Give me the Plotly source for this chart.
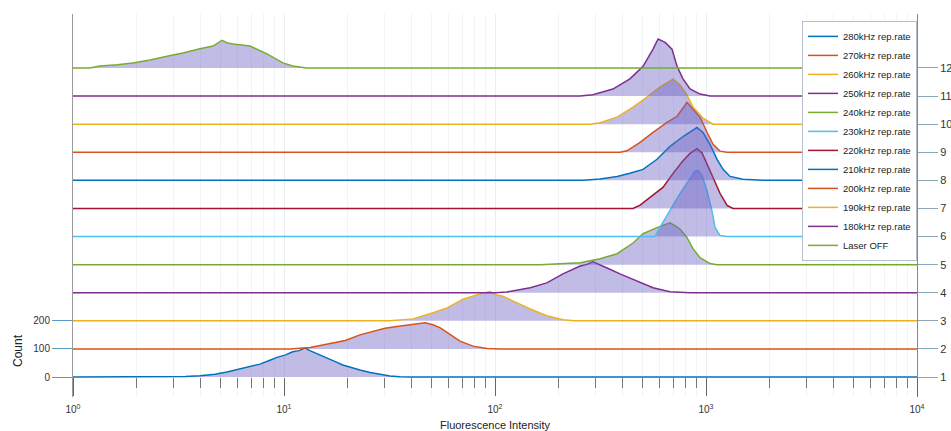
import plotly.graph_objects as go

# ---------------- data ----------------
SERIES_NAMES = ["280kHz rep.rate", "270kHz rep.rate", "260kHz rep.rate", "250kHz rep.rate",
                "240kHz rep.rate", "230kHz rep.rate", "220kHz rep.rate", "210kHz rep.rate",
                "200kHz rep.rate", "190kHz rep.rate", "180kHz rep.rate", "Laser OFF"]
SERIES_COLORS = ["#0072BD", "#D95319", "#EDB120", "#7E2F8E", "#77AC30", "#4DBEEE",
                 "#A2142F", "#0072BD", "#D95319", "#EDB120", "#7E2F8E", "#77AC30"]
RIGHT_LABELS = ["1", "2", "3", "4", "5", "6", "7", "8", "9", "10", "11", "12"]
LEFT_TICKS = [0, 100, 200]
X_TICKS = [1, 10, 100, 1000, 10000]
X_TICK_TEXT = ["10<sup>0</sup>", "10<sup>1</sup>", "10<sup>2</sup>", "10<sup>3</sup>", "10<sup>4</sup>"]
X_MIN, X_MAX = 1, 10000
OFFSET_STEP = 100

# intensity / count pairs per histogram
S280_X = [2.88, 3.40, 4.0, 4.71, 5.37, 6.18, 6.90, 7.69, 8.58, 9.26, 10.1, 11.0, 11.8, 12.6, 13.1,
          13.7, 14.8, 16.0, 17.5, 19.0, 21.0, 22.9, 25.6, 27.6, 31.8, 35.5, 39.5]
S280_Y = [0, 2, 5, 10, 18, 28, 38, 46, 60, 70, 78, 90, 94, 104, 96, 90, 78, 67, 55, 43, 32, 25, 16, 11, 4, 1, 0]

S270_X = [10.7, 13.3, 16.0, 19.5, 22.9, 26.1, 30.1, 33.6, 37.4, 41.8, 46.6, 50.8, 54.8, 61.2, 68.2, 78.7, 91.6, 106]
S270_Y = [0, 5, 17, 30, 50, 62, 74, 79, 84, 88, 93, 86, 76, 52, 28, 10, 2, 0]

S260_X = [31.8, 40.9, 49.2, 59.3, 70.5, 84.9, 94.7, 102, 109, 122, 147, 176, 210, 239]
S260_Y = [0, 7, 25, 46, 77, 96, 104, 92, 88, 70, 42, 18, 4, 0]

S250_X = [100, 114, 147, 176, 210, 253, 273, 291, 315, 340, 391, 471, 561, 675, 840]
S250_Y = [0, 3, 18, 35, 67, 95, 101, 110, 100, 88, 67, 42, 18, 4, 0]

S240_X = [163, 253, 315, 379, 451, 503, 561, 605, 653, 675, 712, 753, 813, 868, 937, 1045, 1128]
S240_Y = [0, 7, 21, 39, 77, 110, 127, 136, 145, 149, 139, 127, 96, 57, 25, 4, 0]

S230_X = [573, 604, 673, 753, 840, 887, 920, 957, 1011, 1067, 1104, 1165, 1259]
S230_Y = [0, 32, 92, 153, 206, 233, 235, 218, 163, 92, 32, 4, 0]

S220_X = [451, 487, 543, 625, 698, 778, 840, 906, 957, 1011, 1080, 1165, 1259, 1343]
S220_Y = [0, 12, 39, 75, 125, 170, 196, 213, 198, 160, 110, 54, 11, 0]

S210_X = [261, 315, 379, 436, 503, 586, 673, 778, 868, 906, 968, 1045, 1128, 1205, 1300, 1497, 1862]
S210_Y = [0, 5, 14, 25, 39, 75, 120, 156, 181, 188, 170, 128, 75, 39, 14, 4, 0]

S200_X = [391, 422, 487, 561, 653, 729, 778, 813, 868, 937, 1011, 1080, 1165, 1259]
S200_Y = [0, 5, 35, 71, 106, 128, 160, 177, 153, 125, 71, 28, 4, 0]

S190_X = [282, 315, 379, 451, 525, 605, 698, 753, 813, 868, 968, 1080]
S190_Y = [0, 5, 25, 61, 96, 132, 160, 139, 103, 61, 21, 0]

S180_X = [253, 291, 362, 436, 503, 561, 593, 640, 690, 729, 778, 840, 937, 1045]
S180_Y = [0, 5, 25, 61, 106, 167, 203, 191, 167, 106, 61, 25, 7, 0]

SOFF_X = [1.2, 1.34, 1.62, 1.92, 2.32, 2.79, 3.32, 4.0, 4.61, 5.08, 5.4, 5.73, 6.90, 8.30, 9.89, 11.0, 12.8]
SOFF_Y = [0, 7, 11, 18, 28, 42, 53, 68, 78, 98, 89, 85, 78, 50, 18, 7, 0]

SERIES_X = [S280_X, S270_X, S260_X, S250_X, S240_X, S230_X, S220_X, S210_X, S200_X, S190_X, S180_X, SOFF_X]
SERIES_Y = [S280_Y, S270_Y, S260_Y, S250_Y, S240_Y, S230_Y, S220_Y, S210_Y, S200_Y, S190_Y, S180_Y, SOFF_Y]

# ---------------- figure ----------------
FILL = "rgba(105,95,195,0.42)"
FONT = "Liberation Sans, Arial, sans-serif"

fig = go.Figure()
offsets = [i * OFFSET_STEP for i in range(len(SERIES_NAMES))]

for i, (xs, ys) in enumerate(zip(SERIES_X, SERIES_Y)):
    off = offsets[i]
    # invisible baseline for the fill
    fig.add_trace(go.Scatter(x=[X_MIN, X_MAX], y=[off, off], mode="lines",
                             line=dict(width=0, color=SERIES_COLORS[i]),
                             showlegend=False, hoverinfo="skip"))
    fig.add_trace(go.Scatter(x=[X_MIN] + xs + [X_MAX],
                             y=[off] + [off + v for v in ys] + [off],
                             mode="lines", fill="tonexty", fillcolor=FILL,
                             line=dict(color=SERIES_COLORS[i], width=1.5),
                             name=SERIES_NAMES[i], showlegend=False))

# legend entries (line only), top to bottom in the same order
for name, col in zip(SERIES_NAMES, SERIES_COLORS):
    fig.add_trace(go.Scatter(x=[None], y=[None], mode="lines", name=name,
                             line=dict(color=col, width=1.5)))

# helpers so the secondary axes are drawn
fig.add_trace(go.Scatter(x=[None], y=[None], xaxis="x2", yaxis="y", showlegend=False, hoverinfo="skip"))
fig.add_trace(go.Scatter(x=[None], y=[None], xaxis="x", yaxis="y2", showlegend=False, hoverinfo="skip"))

Y_RANGE = [-71, 1292]
minor_vals = [m * 10 ** d for d in range(4) for m in range(2, 10)]
PLOT_H = 431 - 14 - 34

fig.update_layout(
    width=951, height=431,
    margin=dict(l=73, r=34, t=14, b=34, autoexpand=False),
    paper_bgcolor="white", plot_bgcolor="white",
    font=dict(family=FONT, size=10, color="#333333"),
    xaxis=dict(type="log", range=[0, 4], tickvals=X_TICKS, ticktext=X_TICK_TEXT,
               ticks="", showline=False, zeroline=False, ticklabelstandoff=5,
               showgrid=True, gridcolor="#e9eef3", gridwidth=1,
               minor=dict(tickvals=minor_vals, showgrid=True, gridcolor="#f1f4f7", ticks=""),
               tickfont=dict(size=10, color="#333333"),
               title=dict(text="Fluorescence Intensity", font=dict(size=11, color="#222222"), standoff=8)),
    xaxis2=dict(type="log", range=[0, 4], overlaying="x", anchor="free",
                position=20 / PLOT_H, tickvals=X_TICKS, showticklabels=False,
                ticks="outside", ticklen=18, tickcolor="#666666", tickwidth=1,
                minor=dict(tickvals=minor_vals, ticks="outside", ticklen=10, tickcolor="#777777"),
                showgrid=False, showline=False, zeroline=False),
    yaxis=dict(range=Y_RANGE, tickvals=LEFT_TICKS, ticks="outside", ticklen=20,
               tickcolor="#5b9bc8", showgrid=False, zeroline=False,
               showline=True, linecolor="#9a9a9a", linewidth=1,
               tickfont=dict(size=10, color="#333333")),
    yaxis2=dict(range=Y_RANGE, overlaying="y", side="right", anchor="x",
                tickvals=offsets, ticktext=RIGHT_LABELS, ticks="outside", ticklen=20,
                tickcolor="#8aa6b8", showgrid=False, zeroline=False,
                showline=True, linecolor="#6b8fa8", linewidth=1,
                tickfont=dict(size=11, color="#333333")),
    legend=dict(x=1.0, xanchor="right", y=0.982, yanchor="top", traceorder="normal",
                bgcolor="white", bordercolor="#b5c0cc", borderwidth=1,
                font=dict(family=FONT, size=9.5, color="#222222"),
                itemwidth=30, tracegroupgap=0),
    annotations=[dict(text="Count", xref="paper", yref="paper",
                      x=(18 - 73) / 844, y=(397 - 350) / PLOT_H, textangle=-90,
                      xanchor="center", yanchor="middle",
                      showarrow=False, font=dict(size=12, color="#222222"))],
)

fig.write_html("out.html", config={"displayModeBar": False},
               post_script="document.body.style.margin='0';document.body.style.overflow='hidden';")
